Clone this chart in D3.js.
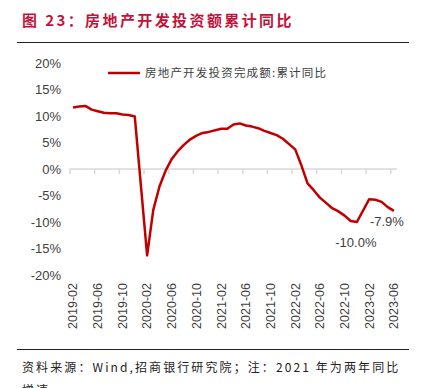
<!DOCTYPE html>
<html>
<head>
<meta charset="utf-8">
<script src="https://cdn.jsdelivr.net/npm/d3@7"></script>
<style>
  body { margin: 0; background: #fff; }
  svg { display: block; }
</style>
</head>
<body>
<div id="chart"></div>
<script>
// months from 2019-02 to 2023-06, January has no release (Jan-Feb combined)
const MONTHS = d3.timeMonths(new Date(2019, 1, 1), new Date(2023, 6, 1)).map(d3.timeFormat('%Y-%m'))

const VALUES_2019 = [11.6, 11.8, 11.9, 11.2, 10.9, 10.6, 10.5, 10.5, 10.3, 10.2, 9.9]
const VALUES_2020 = [null, -16.3, -7.7, -3.3, -0.3, 1.9, 3.4, 4.6, 5.6, 6.3, 6.8, 7.0]
const VALUES_2021 = [null, 7.6, 7.6, 8.4, 8.6, 8.2, 8.0, 7.7, 7.2, 6.8, 6.4, 5.7]
const VALUES_2022 = [null, 3.7, 0.7, -2.7, -4.0, -5.4, -6.4, -7.4, -8.0, -8.8, -9.8, -10.0]
const VALUES_2023 = [null, -5.7, -5.8, -6.2, -7.2, -7.9]

const VALUES = [].concat(VALUES_2019, VALUES_2020, VALUES_2021, VALUES_2022, VALUES_2023)

const Y_TICKS = [20, 15, 10, 5, 0, -5, -10, -15, -20]

const ANNOTATIONS = [
  { month: '2022-12', text: '-10.0%', dx: -1, dy: 20 },
  { month: '2023-06', text: '-7.9%', dx: -7, dy: 11 }
]

const TITLE = '图 23：房地产开发投资额累计同比'
const LEGEND = '房地产开发投资完成额:累计同比'
const SOURCE = '资料来源：Wind,招商银行研究院；注：2021 年为两年同比'
const SOURCE_2 = '增速'

// ===================================================================

const WIDTH = 427
const HEIGHT = 388

const RED = '#c00000'
const TEXT = '#404040'
const LATIN = "'Liberation Sans', Arial, sans-serif"
const CJK = "'Noto Sans CJK SC', sans-serif"

const data = MONTHS.map((month, i) => ({ month, value: VALUES[i] }))

const svg = d3.select('#chart')
  .append('svg')
    .attr('width', WIDTH)
    .attr('height', HEIGHT)

const x = d3.scalePoint()
  .domain(MONTHS)
  .range([70, 397])
  .padding(0.5)

const y = d3.scaleLinear()
  .domain([-20, 20])
  .range([275, 63])

const step = x.step()

// title
svg.append('text')
  .attr('x', 22)
  .attr('y', 26)
  .attr('fill', '#c0143c')
  .attr('font-family', CJK)
  .attr('font-weight', 'bold')
  .attr('font-size', '15px')
  .attr('letter-spacing', '2.4px')
  .text(TITLE)

// top and bottom rules
svg.append('line')
  .attr('x1', 17).attr('x2', 409)
  .attr('y1', 42.5).attr('y2', 42.5)
  .attr('stroke', '#222').attr('stroke-width', 1)

svg.append('line')
  .attr('x1', 17).attr('x2', 409)
  .attr('y1', 349.5).attr('y2', 349.5)
  .attr('stroke', '#222').attr('stroke-width', 1)

// y labels
svg.append('g')
  .selectAll('text')
  .data(Y_TICKS)
  .join('text')
    .attr('x', 61)
    .attr('y', d => y(d))
    .attr('dy', '0.35em')
    .attr('text-anchor', 'end')
    .attr('fill', TEXT)
    .attr('font-family', LATIN)
    .attr('font-size', '13px')
    .text(d => d + '%')

// zero line and ticks
svg.append('line')
  .attr('x1', 70).attr('x2', 397)
  .attr('y1', y(0)).attr('y2', y(0))
  .attr('stroke', '#d9d9d9').attr('stroke-width', 1.5)

const tickMonths = MONTHS.filter((d, i) => i % 4 === 0)

svg.append('g')
  .selectAll('line')
  .data(tickMonths)
  .join('line')
    .attr('x1', d => x(d) - step / 2)
    .attr('x2', d => x(d) - step / 2)
    .attr('y1', y(0))
    .attr('y2', y(0) + 5)
    .attr('stroke', '#d9d9d9')
    .attr('stroke-width', 1.5)

// x labels
svg.append('g')
  .selectAll('text')
  .data(tickMonths)
  .join('text')
    .attr('transform', d => `translate(${x(d)}, 283) rotate(-90)`)
    .attr('dy', '0.35em')
    .attr('text-anchor', 'end')
    .attr('fill', TEXT)
    .attr('font-family', LATIN)
    .attr('font-size', '12.5px')
    .text(d => d)

// series, skipping the empty January slots
const line = d3.line()
  .x(d => x(d.month))
  .y(d => y(d.value))

svg.append('path')
  .datum(data.filter(d => d.value !== null))
  .attr('d', line)
  .attr('fill', 'none')
  .attr('stroke', RED)
  .attr('stroke-width', 2.5)
  .attr('stroke-linejoin', 'round')

// annotations
const byMonth = new Map(data.map(d => [d.month, d.value]))

svg.append('g')
  .selectAll('text')
  .data(ANNOTATIONS)
  .join('text')
    .attr('x', d => x(d.month) + d.dx)
    .attr('y', d => y(byMonth.get(d.month)) + d.dy)
    .attr('dy', '0.35em')
    .attr('text-anchor', 'middle')
    .attr('fill', TEXT)
    .attr('font-family', LATIN)
    .attr('font-size', '13px')
    .text(d => d.text)

// legend
svg.append('line')
  .attr('x1', 108).attr('x2', 140)
  .attr('y1', 73).attr('y2', 73)
  .attr('stroke', RED).attr('stroke-width', 2.5)

svg.append('text')
  .attr('x', 145)
  .attr('y', 73)
  .attr('dy', '0.35em')
  .attr('fill', TEXT)
  .attr('font-family', CJK)
  .attr('font-size', '11.5px')
  .attr('letter-spacing', '1.2px')
  .text(LEGEND)

// source note, second line runs off the bottom as in the original
svg.append('text')
  .attr('x', 22)
  .attr('y', 372)
  .attr('fill', '#222')
  .attr('font-family', CJK)
  .attr('font-size', '12px')
  .attr('letter-spacing', '2.1px')
  .text(SOURCE)

svg.append('text')
  .attr('x', 22)
  .attr('y', 395)
  .attr('fill', '#222')
  .attr('font-family', CJK)
  .attr('font-size', '12px')
  .attr('letter-spacing', '2.1px')
  .text(SOURCE_2)
</script>
</body>
</html>
